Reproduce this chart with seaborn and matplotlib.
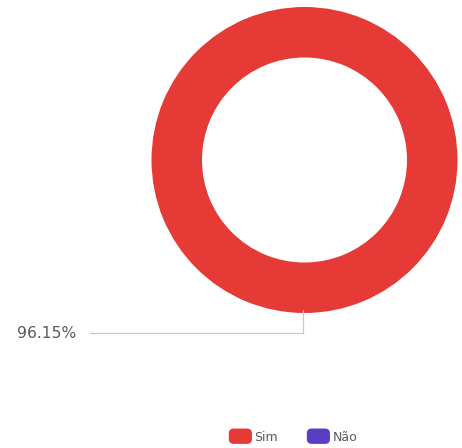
import matplotlib
matplotlib.use("Agg")
import matplotlib.pyplot as plt
import seaborn as sns
from matplotlib.patches import FancyBboxPatch, Patch
from matplotlib.legend_handler import HandlerPatch

categories = ["Sim", "Não"]
values = [96.15, 0.0]
label_text = ["96.15%"]
colors = ["#E53A36", "#5B3CC4"]

sns.set_theme(style="white")
plt.rcParams['font.family'] = ['DejaVu Sans']

fig = plt.figure(figsize=(4.62, 4.48), dpi=100)
ax = fig.add_axes([0, 0, 1, 1])

cx, cy, R = 304.5, 288, 153
ax.pie(values, colors=colors, center=(cx, cy), radius=R, startangle=90,
       counterclock=False, wedgeprops=dict(width=R * 0.33, linewidth=0),
       frame=True)
ax.set_xlim(0, 462)
ax.set_ylim(0, 448)
ax.set_aspect('equal')
ax.axis('off')

# leader line
ax.plot([cx - 2, cx - 2, 90], [cy - R + 3, 115, 115], color="#C8C8C8", lw=0.9)
ax.text(17, 115, label_text[0], ha='left', va='center', fontsize=11.2, color="#5A5A5A")

class RoundHandler(HandlerPatch):
    def create_artists(self, legend, orig_handle, xdescent, ydescent, width, height, fontsize, trans):
        p = FancyBboxPatch((-xdescent, -ydescent - 1.5), width, height + 3,
                           boxstyle="round,pad=0,rounding_size=3.5",
                           facecolor=orig_handle.get_facecolor(), edgecolor='none', transform=trans)
        return [p]

handles = [Patch(facecolor=c) for c in colors]
fig.legend(handles, categories, loc='center', bbox_to_anchor=(293 / 462, 1 - 437 / 448),
           ncol=2, frameon=False, fontsize=9, handlelength=1.85, handleheight=1.0,
           handletextpad=0.2, columnspacing=2.3,
           handler_map={Patch: RoundHandler()}, labelcolor="#5A5A5A")

fig.savefig("out.png", dpi=100)
